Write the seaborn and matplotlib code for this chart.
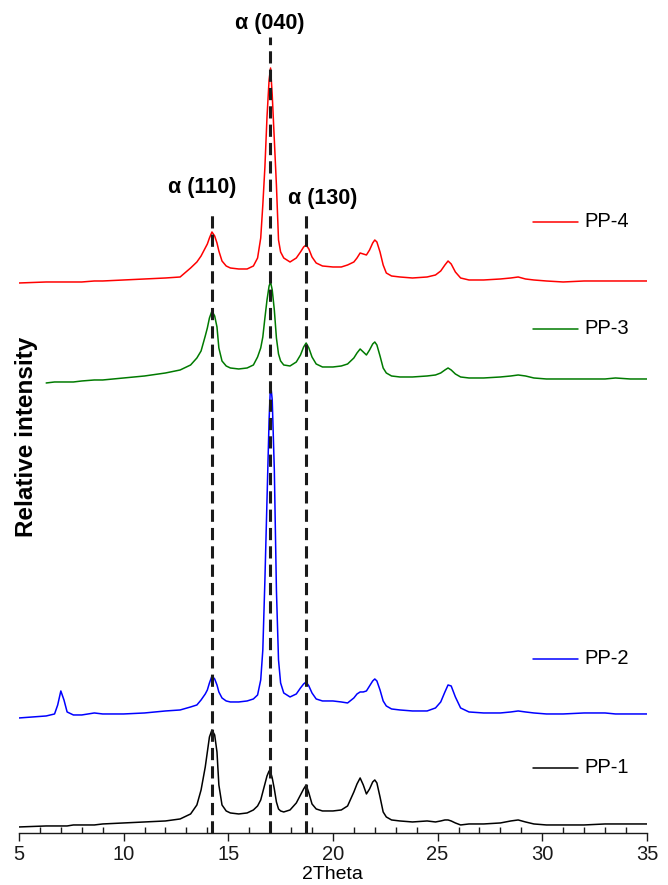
import numpy as np
import matplotlib
matplotlib.use('Agg')
import matplotlib.pyplot as plt
import seaborn as sns

sns.set_theme(style='white')
plt.rcParams['font.family'] = ['Liberation Sans', 'DejaVu Sans']
plt.rcParams['text.color'] = 'black'
plt.rcParams['axes.labelcolor'] = 'black'

# 2Theta grid (deg) and stacked relative intensities
two_theta = [5.0, 6.3, 6.7, 6.85, 7.0, 7.15, 7.3, 7.6, 8.0, 8.6,
             9.0, 10.0, 11.0, 12.0, 12.7, 13.2, 13.5, 13.7, 13.9, 14.0,
             14.1, 14.22, 14.35, 14.46, 14.55, 14.7, 14.9, 15.1, 15.5, 15.9,
             16.2, 16.4, 16.55, 16.65, 16.75, 16.85, 16.95, 17.02, 17.1, 17.2,
             17.3, 17.4, 17.5, 17.65, 17.95, 18.25, 18.45, 18.6, 18.72, 18.85,
             19.0, 19.2, 19.5, 20.0, 20.4, 20.7, 21.0, 21.15, 21.3, 21.45,
             21.6, 21.75, 21.9, 22.0, 22.1, 22.25, 22.4, 22.55, 22.8, 23.2,
             23.8, 24.5, 24.9, 25.15, 25.35, 25.5, 25.65, 25.85, 26.1, 26.5,
             27.2, 28.0, 28.5, 28.85, 29.2, 29.6, 30.2, 31.0, 32.0, 33.0,
             33.5, 34.2, 35.0]

pp4 = [550, 551, 551, 551, 551, 551, 551, 551, 551, 552,
       552, 553, 554, 555, 556, 565, 571, 577, 585, 589,
       595, 601, 597, 590, 582, 572, 567, 565, 564, 564,
       567, 575, 595, 628, 666, 716, 753, 765, 738, 693,
       648, 593, 581, 575, 571, 575, 581, 586, 588, 584,
       576, 570, 567, 566, 566, 568, 571, 575, 580, 579,
       578, 583, 590, 593, 591, 581, 568, 560, 557, 556,
       555, 556, 558, 562, 568, 572, 569, 561, 555, 553,
       553, 554, 555, 556, 554, 553, 552, 551, 552, 552,
       552, 552, 552]

pp3 = [np.nan, 450, 451, 451, 451, 451, 451, 451, 452, 453,
       453, 455, 457, 460, 463, 468, 475, 482, 497, 505,
       515, 522, 517, 506, 485, 472, 467, 465, 464, 465,
       468, 476, 485, 496, 515, 533, 547, 551, 543, 523,
       495, 479, 472, 468, 467, 471, 478, 486, 490, 485,
       476, 469, 466, 466, 467, 469, 475, 480, 484, 481,
       478, 483, 489, 491, 488, 477, 465, 460, 457, 456,
       456, 457, 458, 460, 463, 465, 463, 459, 456, 455,
       455, 456, 457, 458, 457, 455, 454, 454, 454, 454,
       455, 454, 454]

pp2 = [115, 117, 119, 128, 142, 133, 121, 118, 118, 120,
       119, 119, 120, 122, 123, 126, 128, 133, 139, 143,
       150, 157, 154, 148, 141, 135, 132, 131, 131, 132,
       134, 138, 153, 183, 253, 333, 413, 450, 433, 363,
       243, 173, 150, 140, 136, 139, 145, 149, 151, 147,
       140, 134, 132, 132, 131, 130, 135, 139, 141, 141,
       142, 147, 152, 154, 152, 143, 132, 127, 124, 123,
       122, 122, 125, 131, 141, 148, 147, 136, 125, 121,
       120, 120, 121, 122, 121, 120, 119, 119, 120, 120,
       119, 119, 119]

pp1 = [6, 7, 7, 7, 7, 7, 7, 8, 8, 8,
       9, 10, 11, 12, 14, 19, 28, 43, 66, 81,
       96, 103, 98, 81, 48, 28, 22, 20, 19, 20,
       23, 27, 33, 41, 49, 57, 62, 61, 55, 44,
       31, 24, 22, 21, 23, 30, 38, 44, 48, 40,
       29, 24, 22, 22, 23, 27, 41, 49, 55, 48,
       39, 44, 51, 53, 50, 36, 21, 16, 13, 12,
       11, 12, 11, 12, 13, 13, 12, 10, 8, 9,
       9, 10, 12, 13, 11, 9, 8, 8, 8, 9,
       9, 9, 9]

samples = ['PP-4', 'PP-3', 'PP-2', 'PP-1']
series = [pp4, pp3, pp2, pp1]
colors = ['#FF0000', '#007A00', '#0000FF', '#000000']
label_levels = [611, 504, 174, 65]

# reflections: position, label, dashed line top, label position
peaks = [14.22, 17.0, 18.72]
peak_names = ['α (110)', 'α (040)', 'α (130)']
line_tops = [621, 796, 618]
name_x = [13.75, 17.0, 19.5]
name_y = [645, 809, 634]

fig = plt.figure(figsize=(6.68, 8.85), dpi=100)
ax = fig.add_axes([0.0284, 0.0588, 0.940, 0.9412])

for name, vals, c in zip(samples, series, colors):
    sns.lineplot(x=two_theta, y=vals, color=c, lw=1.1, estimator=None, ax=ax)

for p, top in zip(peaks, line_tops):
    ax.vlines(p, 0, top, colors='k', linestyles=(0, (4, 2)), lw=2.2, zorder=5)
for nm, xx, yy in zip(peak_names, name_x, name_y):
    ax.text(xx, yy, nm, ha='center', va='center', fontsize=15.5, fontweight='bold')

# labels beside each pattern
for name, lvl, c in zip(samples, label_levels, colors):
    ax.plot([29.55, 31.7], [lvl, lvl], color=c, lw=1.1)
    ax.text(32.0, lvl, name, ha='left', va='center', fontsize=14.5)

ax.set_xlim(5, 35)
ax.set_ylim(0, 833)
ax.set_xticks(np.arange(5, 36, 5))
ax.set_xticks(np.arange(5, 36, 1), minor=True)
ax.set_yticks([])
for s in ['left', 'top', 'right']:
    ax.spines[s].set_visible(False)
ax.spines['bottom'].set_color('k')
ax.spines['bottom'].set_linewidth(1.0)
ax.tick_params(axis='x', which='major', direction='out', length=6, width=1,
               labelsize=14.5, pad=3, bottom=True, colors='k')
ax.tick_params(axis='x', which='minor', direction='in', length=4, width=1, bottom=True,
               colors='k')
ax.set_xlabel('2Theta', fontsize=14, labelpad=1)
ax.set_ylabel('')
fig.text(27 / 668, 1 - 437 / 885, 'Relative intensity', rotation=90, ha='center',
         va='center', fontsize=17.5, fontweight='bold')
ax.patch.set_alpha(0)

fig.savefig('out.png', dpi=100)
